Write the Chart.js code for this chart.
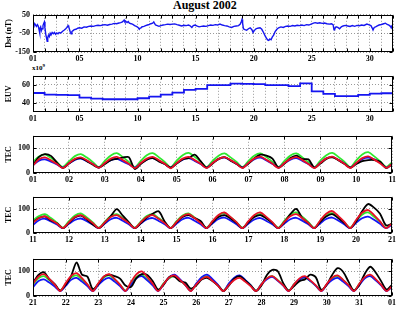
<!DOCTYPE html>
<html><head><meta charset="utf-8">
<script src="https://cdn.jsdelivr.net/npm/chart.js@4.4.1/dist/chart.umd.min.js"></script>
<style>
html,body{margin:0;padding:0;background:#fff;}
body{width:398px;height:310px;position:relative;overflow:hidden;}
canvas{position:absolute;left:0;}
#title{position:absolute;left:173px;top:-1px;font:bold 12px "Liberation Serif",serif;line-height:12px;color:#000;white-space:nowrap;}
#euvexp{position:absolute;left:32px;top:62px;font:bold 7px "Liberation Serif",serif;line-height:7px;color:#000;white-space:nowrap;}
#euvexp sup{font-size:5px;vertical-align:3px;}
</style></head><body>
<div id="title">August 2002</div>
<div id="euvexp">x10<sup>9</sup></div>
<canvas id="c1"></canvas>
<canvas id="c2"></canvas>
<canvas id="c3"></canvas>
<canvas id="c4"></canvas>
<canvas id="c5"></canvas>
<script>
// ---------------- DATA ----------------
const monthTickDays = [1,5,10,15,20,25,30];
const monthTickLabels = ['01','05','10','15','20','25','30'];

const dstDay = [1.00,1.08,1.15,1.22,1.30,1.38,1.45,1.52,1.56,1.60,1.66,1.72,1.78,1.86,1.93,1.98,2.03,2.10,2.18,2.22,2.27,2.33,2.40,2.48,2.55,2.65,2.75,2.85,2.95,3.05,3.15,3.25,3.40,3.55,3.70,3.82,3.92,4.02,4.08,4.15,4.22,4.28,4.35,4.45,4.55,4.70,4.85,5.00,5.20,5.40,5.60,5.80,6.00,6.20,6.40,6.60,6.80,7.00,7.20,7.40,7.60,7.80,8.00,8.20,8.40,8.55,8.70,8.80,8.85,8.92,9.00,9.10,9.20,9.30,9.45,9.60,9.75,9.90,10.05,10.15,10.22,10.30,10.40,10.55,10.70,10.85,11.00,11.15,11.30,11.40,11.48,11.55,11.70,11.85,12.00,12.20,12.40,12.60,12.80,13.00,13.20,13.40,13.60,13.80,14.00,14.20,14.40,14.55,14.68,14.80,14.95,15.10,15.30,15.50,15.70,15.90,16.10,16.30,16.50,16.70,16.90,17.10,17.30,17.50,17.70,17.90,18.10,18.30,18.50,18.70,18.85,18.95,19.00,19.05,19.12,19.25,19.40,19.55,19.70,19.85,19.95,20.05,20.20,20.35,20.55,20.70,20.85,21.00,21.10,21.20,21.30,21.40,21.50,21.60,21.72,21.85,22.00,22.15,22.35,22.55,22.75,22.95,23.15,23.35,23.55,23.75,23.95,24.15,24.35,24.55,24.75,24.95,25.15,25.30,25.50,25.70,25.90,26.10,26.30,26.50,26.70,26.84,26.92,26.98,27.10,27.25,27.40,27.55,27.70,27.90,28.10,28.30,28.50,28.70,28.90,29.10,29.30,29.50,29.75,29.95,30.10,30.20,30.28,30.38,30.50,30.65,30.80,31.00,31.20,31.35,31.50,31.65,31.78,31.85,31.92,32.00];
const dstNT = [0,-8,3,-5,-12,-3,-10,-30,-48,-25,-15,-35,-25,-8,5,12,-20,-55,-80,-92,-72,-60,-68,-50,-58,-45,-52,-45,-55,-48,-52,-45,-48,-38,-32,-25,-18,-8,-15,-30,-45,-52,-40,-35,-30,-28,-22,-20,-22,-15,-17,-12,-10,-12,-8,-6,-8,-5,-3,-6,-2,0,4,2,6,8,12,18,22,12,15,8,14,5,2,-2,-8,-12,-18,-28,-22,-20,-14,-12,-8,-5,-2,2,5,12,2,-5,-8,-12,-8,-5,-3,0,-2,0,1,-3,-6,-10,-6,-8,-5,-10,-18,-8,-5,-10,-15,-12,-10,-12,-8,-5,-7,-3,-5,0,-5,-8,-10,-15,-18,-12,-10,-8,0,15,25,5,-25,-30,-33,-25,-20,-30,-45,-35,-25,-22,-20,-28,-45,-65,-75,-85,-88,-80,-84,-70,-60,-40,-28,-20,-15,-18,-12,-10,-12,-8,-10,-6,-8,-5,-8,-3,-5,0,5,8,5,7,4,6,2,0,2,-3,-30,-25,-15,-18,-25,-15,-10,-7,-10,-13,-8,-12,-7,-9,-5,-7,0,-4,-8,-20,-32,-18,-15,-10,-5,-2,2,5,-2,-6,-12,-20,-8,-5];
const dstTicks = [-150,-100,-50,0,50];

const euvDay   = [1,2,3,4,5,6,7,8,9,10,11,12,13,14,15,16,17,18,19,20,21,22,23,24,25,26,27,28,29,30,31,32];
const euvValue = [51,49.3,49,48.6,45.9,44.8,44.1,44.1,44.1,45.2,46.9,49.3,51.4,54.5,55.5,59.7,59.7,61.4,61,60.7,59.7,59.7,58.6,61.7,52.8,50,47.6,47.6,49,50.3,50.7,50.7];
const euvTicks = [40,60];

const tecTicks = [0,50,100,150];
const sampleHours = [0,4,8,12,16,20];

// Panel A: 01-11 Aug
const tecADays = [1,2,3,4,5,6,7,8,9,10,11];
const tecALabels = ['01','02','03','04','05','06','07','08','09','10','11'];
const tecABlack = [32,65,76,69,42,20, 38,55,60,48,33,22, 36,52,57,62,64,16, 36,54,60,47,36,22, 38,55,60,74,48,22, 38,57,64,50,36,22, 38,60,74,70,58,22, 38,60,70,56,55,22, 38,57,63,52,37,22, 36,48,52,52,45,20, 36];
const tecAGreen = [45,66,75,61,43,25, 47,68,76,62,44,24, 49,71,80,64,45,24, 49,72,80,64,45,23, 50,72,81,65,46,24, 49,70,79,63,45,24, 49,71,79,64,45,24, 49,71,79,63,44,23, 50,72,81,65,46,24, 51,75,84,67,47,25, 44];
const tecABlue  = [32,50,55,46,35,22, 38,53,58,48,36,22, 38,52,57,47,35,22, 39,54,60,49,36,22, 39,54,60,49,36,22, 40,56,62,51,37,22, 40,56,62,51,37,22, 39,54,60,49,36,22, 41,59,65,53,38,22, 40,56,62,55,42,22, 36];
const tecARed   = [30,55,63,51,36,20, 39,57,63,51,36,21, 40,58,65,52,37,20, 40,58,65,52,37,19, 40,58,65,52,37,20, 40,57,64,52,37,20, 41,59,66,53,37,20, 40,57,64,52,36,20, 41,59,66,53,37,20, 41,60,67,54,38,21, 36];

// Panel B: 11-21 Aug
const tecBDays = [11,12,13,14,15,16,17,18,19,20,21];
const tecBLabels = ['11','12','13','14','15','16','17','18','19','20','21'];
const tecBBlack = [45,62,69,52,40,20, 42,64,72,56,35,20, 42,70,99,72,45,20, 40,63,80,90,48,20, 44,66,74,62,50,20, 44,66,74,60,42,20, 44,66,74,60,42,20, 44,78,100,62,42,20, 46,68,78,62,42,20, 48,90,120,105,80,32, 38];
const tecBGreen = [52,70,78,62,43,22, 49,72,81,64,44,22, 47,70,78,62,43,22, 47,70,78,62,43,21, 49,72,81,64,44,22, 49,73,82,65,45,22, 47,70,78,62,43,22, 50,76,85,67,46,22, 49,73,82,65,45,22, 50,76,85,67,46,22, 42];
const tecBBlue  = [33,53,59,48,35,20, 38,54,60,49,35,20, 39,57,63,51,36,20, 39,56,62,50,36,20, 39,57,63,51,36,20, 40,58,64,52,36,20, 39,56,62,50,36,20, 39,57,63,51,36,20, 40,58,64,52,36,20, 42,61,68,55,38,20, 34];
const tecBRed   = [43,62,69,55,39,20, 44,66,74,59,41,20, 44,66,74,59,41,20, 44,66,74,59,41,20, 46,69,78,62,42,20, 49,75,85,67,45,20, 49,75,85,67,45,20, 46,69,78,62,42,20, 52,80,91,71,47,20, 54,84,95,74,48,20, 40];

// Panel C: 21 Aug - 01 Sep
const tecCDays = [21,22,23,24,25,26,27,28,29,30,31,32];
const tecCLabels = ['21','22','23','24','25','26','27','28','29','30','31','01'];
const tecCBlack = [54,85,96,68,48,22, 45,80,135,86,78,28, 48,78,86,80,70,42, 36,72,88,85,60,26, 45,76,78,60,54,30, 42,66,73,60,42,20, 42,70,80,63,43,20, 42,85,105,100,52,22, 40,60,67,86,75,25, 45,85,112,98,58,22, 45,90,118,95,60,26, 45];
const tecCGreen = [47,71,80,64,44,22, 48,74,83,66,45,22, 49,74,83,66,45,22, 49,76,86,68,46,22, 51,71,80,64,44,22, 48,71,80,64,44,22, 48,71,80,64,44,22, 48,71,80,64,44,22, 48,67,75,60,42,22, 46,71,80,64,44,22, 48,73,82,65,45,22, 42];
const tecCBlue  = [35,60,67,54,38,20, 41,65,73,58,40,20, 44,65,73,58,40,20, 44,71,80,63,43,20, 47,74,86,68,45,20, 50,76,86,68,45,20, 50,74,83,65,44,20, 48,68,77,61,42,20, 46,67,75,60,41,20, 45,65,73,58,40,20, 44,71,80,63,43,20, 38];
const tecCRed   = [50,78,88,69,46,20, 52,81,92,72,47,20, 51,78,88,69,46,20, 56,87,99,77,50,20, 48,74,83,65,44,20, 46,68,77,61,42,20, 44,65,73,58,40,20, 47,71,80,63,43,20, 47,71,80,63,43,20, 48,74,83,65,44,20, 50,76,86,68,45,20, 40];

// ---------------- RENDERING ----------------
const PAD = 6, XAXIS_H = 12;
const tickFont = { family: '"Liberation Serif", serif', size: 8, weight: 'bold' };
const titleFont = { family: '"Liberation Serif", serif', size: 8, weight: 'bold' };

const framePlugin = {
  id: 'frame',
  afterDraw(chart) {
    const { ctx, chartArea: a, scales } = chart;
    ctx.save();
    ctx.strokeStyle = '#000';
    ctx.lineWidth = 1;
    const L = Math.round(a.left) + 0.5, R = Math.round(a.right) - 0.5;
    const T = Math.round(a.top) + 0.5, B = Math.round(a.bottom) - 0.5;
    ctx.strokeRect(L, T, R - L, B - T);
    ctx.beginPath();
    scales.x.ticks.forEach(t => {
      const p = Math.round(scales.x.getPixelForValue(t.value)) + 0.5;
      ctx.moveTo(p, B); ctx.lineTo(p, B - 3);
      ctx.moveTo(p, T); ctx.lineTo(p, T + 3);
    });
    scales.y.ticks.forEach(t => {
      const p = Math.round(scales.y.getPixelForValue(t.value)) + 0.5;
      ctx.moveTo(L, p); ctx.lineTo(L + 3, p);
      ctx.moveTo(R, p); ctx.lineTo(R - 3, p);
    });
    ctx.stroke();
    ctx.restore();
  }
};

function samplePoints(days, values) {
  const pts = [];
  let k = 0;
  for (let d = 0; d < days.length - 1; d++) {
    for (const h of sampleHours) { pts.push({ x: days[d] + h / 24, y: values[k++] }); }
  }
  pts.push({ x: days[days.length - 1], y: values[k] });
  return pts;
}
function pairPoints(xs, ys) { return xs.map((x, i) => ({ x, y: ys[i] })); }

function buildChart(id, chartTop, plotH, cfg) {
  const cv = document.getElementById(id);
  cv.width = 398; cv.height = plotH + PAD + XAXIS_H;
  cv.style.top = (chartTop - PAD) + 'px';
  return new Chart(cv, {
    type: 'line',
    data: { datasets: cfg.datasets },
    options: {
      responsive: false, animation: false, devicePixelRatio: 1,
      layout: { padding: { top: PAD, right: 5, left: 0, bottom: 0 } },
      plugins: { legend: { display: false }, tooltip: { enabled: false }, title: { display: false } },
      elements: { point: { radius: 0 } },
      scales: {
        x: {
          type: 'linear', min: cfg.xMin, max: cfg.xMax,
          afterFit: s => { s.height = XAXIS_H; },
          afterBuildTicks: s => { s.ticks = cfg.xTicks.map(v => ({ value: v })); },
          ticks: { autoSkip: false, maxRotation: 0, minRotation: 0, padding: 2, font: tickFont, color: '#000',
                   callback: v => cfg.xLabel(v) },
          grid: { color: 'rgba(0,0,0,0.4)', lineWidth: 1, drawTicks: false },
          border: { display: false, dash: [1, 2] }
        },
        y: {
          min: cfg.yMin, max: cfg.yMax,
          afterFit: s => { s.width = 33; },
          afterBuildTicks: s => { s.ticks = cfg.yTicks.map(v => ({ value: v })); },
          ticks: { padding: 3, font: tickFont, color: '#000', callback: v => String(v) },
          grid: { color: 'rgba(0,0,0,0.4)', lineWidth: 1, drawTicks: false },
          border: { display: false, dash: [1, 2] },
          title: { display: true, text: cfg.yTitle, font: titleFont, color: '#000', padding: { top: 4, bottom: 0 } }
        }
      }
    },
    plugins: [framePlugin]
  });
}

const allDays = euvDay;  // tick at every day 1..32
const monthLabel = v => { const i = monthTickDays.indexOf(v); return i >= 0 ? monthTickLabels[i] : ''; };

buildChart('c1', 13, 39, {
  xMin: 1, xMax: 32, xTicks: allDays, xLabel: monthLabel,
  yMin: -150, yMax: 50, yTicks: dstTicks, yTitle: 'Dst (nT)',
  datasets: [{ data: pairPoints(dstDay, dstNT), borderColor: '#1515f0', borderWidth: 1.4, tension: 0 }]
});
buildChart('c2', 74, 38, {
  xMin: 1, xMax: 32, xTicks: allDays, xLabel: monthLabel,
  yMin: 30, yMax: 70, yTicks: euvTicks, yTitle: 'EUV',
  datasets: [{ data: pairPoints(euvDay, euvValue), borderColor: '#1515f0', borderWidth: 1.8, stepped: true }]
});

function tecSets(days, black, green, blue, red) {
  const common = { borderWidth: 1.8, tension: 0.3 };
  return [
    Object.assign({ data: samplePoints(days, red),   borderColor: '#e80f25' }, common),
    Object.assign({ data: samplePoints(days, black), borderColor: '#000000' }, common),
    Object.assign({ data: samplePoints(days, blue),  borderColor: '#1414f5' }, common),
    Object.assign({ data: samplePoints(days, green), borderColor: '#2ee82e' }, common)
  ];
}
function tecPanel(id, top, h, days, labels, black, green, blue, red) {
  buildChart(id, top, h, {
    xMin: days[0], xMax: days[days.length - 1], xTicks: days,
    xLabel: v => { const i = days.indexOf(v); return i >= 0 ? labels[i] : ''; },
    yMin: 0, yMax: 150, yTicks: tecTicks, yTitle: 'TEC',
    datasets: tecSets(days, black, green, blue, red)
  });
}
tecPanel('c3', 134, 39, tecADays, tecALabels, tecABlack, tecAGreen, tecABlue, tecARed);
tecPanel('c4', 195, 38, tecBDays, tecBLabels, tecBBlack, tecBGreen, tecBBlue, tecBRed);
tecPanel('c5', 257, 39, tecCDays, tecCLabels, tecCBlack, tecCGreen, tecCBlue, tecCRed);
</script>
</body></html>
